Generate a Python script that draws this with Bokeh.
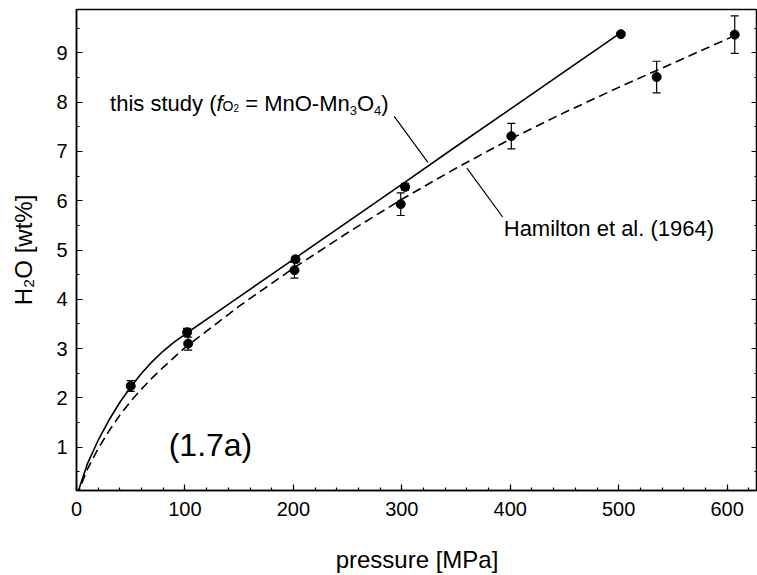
from bokeh.plotting import figure
from bokeh.models import (ColumnDataSource, Whisker, TeeHead, Label, LinearAxis,
                          SingleIntervalTicker, Range1d, CustomJSTickFormatter)
from bokeh.embed import file_html
from bokeh.resources import INLINE

# ---- data ----
# fitted curve, this study (solid)
study_curve_p = [0, 10, 20, 30, 40, 50, 60, 70, 80, 90, 100, 125, 150, 175, 200,
                 250, 300, 350, 400, 450, 500]
study_curve_w = [0, 0.66, 1.14, 1.55, 1.91, 2.22, 2.50, 2.74, 2.95, 3.13, 3.29,
                 3.67, 4.05, 4.43, 4.81, 5.57, 6.33, 7.10, 7.86, 8.62, 9.38]
# Hamilton et al. (1964) curve (dashed)
ham_curve_p = [0, 10, 20, 30, 40, 50, 60, 70, 80, 90, 100, 150, 200, 250, 300,
               350, 400, 450, 500, 550, 607]
ham_curve_w = [0, 0.55, 0.97, 1.33, 1.65, 1.93, 2.18, 2.41, 2.62, 2.82, 3.02,
               3.86, 4.63, 5.35, 6.03, 6.66, 7.25, 7.79, 8.30, 8.79, 9.35]

# measured points
study_p = [50, 102, 202, 303, 502]
study_w = [2.24, 3.33, 4.81, 6.28, 9.38]
study_err = [0.11, 0.08, 0.06, 0.07, 0.03]

ham_p = [103, 201, 299, 401, 535, 607]
ham_w = [3.10, 4.59, 5.93, 7.31, 8.51, 9.37]
ham_err = [0.13, 0.16, 0.23, 0.26, 0.32, 0.38]

# leader lines of the annotations
lead_study_p = [293, 324]
lead_study_w = [7.71, 6.78]
lead_ham_p = [360, 393]
lead_ham_w = [6.66, 5.67]

FONT = "Liberation Sans"

p = figure(width=757, height=575, output_backend="svg", toolbar_location=None,
           x_range=Range1d(0, 628), y_range=Range1d(0.12, 9.88),
           min_border_left=76, min_border_right=0, min_border_top=9,
           min_border_bottom=10)
p.grid.visible = False
p.outline_line_color = "black"
p.outline_line_width = 1.5
p.background_fill_color = "white"
p.border_fill_color = "white"

# axes
xa = p.xaxis[0]
xa.ticker = SingleIntervalTicker(interval=100, num_minor_ticks=5)
ya = p.yaxis[0]
ya.ticker = SingleIntervalTicker(interval=1, num_minor_ticks=2)
for ax in (xa, ya):
    ax.axis_line_width = 1.5
    ax.axis_line_color = "black"
    ax.major_tick_in = 6
    ax.major_tick_out = 0
    ax.minor_tick_in = 3
    ax.minor_tick_out = 0
    ax.major_tick_line_width = 1.2
    ax.minor_tick_line_width = 1.2
    ax.major_label_text_font = FONT
    ax.major_label_text_font_size = "20px"
    ax.major_label_text_color = "black"
    ax.axis_label_text_font = FONT
    ax.axis_label_text_font_size = "24px"
    ax.axis_label_text_font_style = "normal"
    ax.axis_label_text_color = "black"
xa.axis_label = "pressure [MPa]"
xa.major_label_standoff = 11
xa.axis_label_standoff = 27
ya.axis_label = "H₂O [wt%]"
ya.major_label_standoff = 9
ya.axis_label_standoff = 16

ra = LinearAxis(ticker=SingleIntervalTicker(interval=1, num_minor_ticks=2),
                formatter=CustomJSTickFormatter(code="return ''"))
ra.major_tick_in = 6
ra.major_tick_out = 0
ra.minor_tick_in = 3
ra.minor_tick_out = 0
ra.major_label_standoff = 0
ra.axis_line_width = 1.5
p.add_layout(ra, "right")

# curves
p.line(study_curve_p, study_curve_w, line_color="black", line_width=1.6)
p.line(ham_curve_p, ham_curve_w, line_color="black", line_width=1.6,
       line_dash="9 5")

# error bars
for xs, ys, es in ((study_p, study_w, study_err), (ham_p, ham_w, ham_err)):
    src = ColumnDataSource(dict(x=xs, lo=[y - e for y, e in zip(ys, es)],
                                hi=[y + e for y, e in zip(ys, es)]))
    w = Whisker(source=src, base="x", lower="lo", upper="hi", dimension="height",
                line_color="black", line_width=1.2,
                upper_head=TeeHead(size=8, line_width=1.2, line_color="black"),
                lower_head=TeeHead(size=8, line_width=1.2, line_color="black"))
    p.add_layout(w)

p.scatter(study_p, study_w, size=9, color="black")
p.scatter(ham_p, ham_w, size=9, color="black")

# leader lines
p.line(lead_study_p, lead_study_w, line_color="black", line_width=1.2)
p.line(lead_ham_p, lead_ham_w, line_color="black", line_width=1.2)

# annotation: this study (fO2 = MnO-Mn3O4)
ax0, ay0 = 31, 7.98
pieces = [
    ("this study (", 0, 0, "22px", "normal"),
    ("f", 106.4, 0, "22px", "italic"),
    ("O", 112.5, -2.8, "14px", "normal"),
    ("2", 123.4, -5, "10px", "normal"),
    ("= MnO-Mn", 135.1, 0, "22px", "normal"),
    ("3", 239.6, -7, "13px", "normal"),
    ("O", 246.8, 0, "22px", "normal"),
    ("4", 263.9, -7, "13px", "normal"),
    (")", 271.1, 0, "22px", "normal"),
]
for txt, dx, dy, fs, st in pieces:
    p.add_layout(Label(x=ax0, y=ay0, x_offset=dx, y_offset=dy, text=txt,
                       text_font=FONT, text_font_size=fs, text_font_style=st,
                       text_baseline="middle", text_align="left",
                       text_color="black"))

p.add_layout(Label(x=394, y=5.43, text="Hamilton et al. (1964)", text_font=FONT,
                   text_font_size="22px", text_baseline="middle",
                   text_align="left", text_color="black"))
p.add_layout(Label(x=85, y=1.04, text="(1.7a)", text_font=FONT,
                   text_font_size="32px", text_baseline="middle",
                   text_align="left", text_color="black"))

open("out.html", "w").write(file_html(p, INLINE))
